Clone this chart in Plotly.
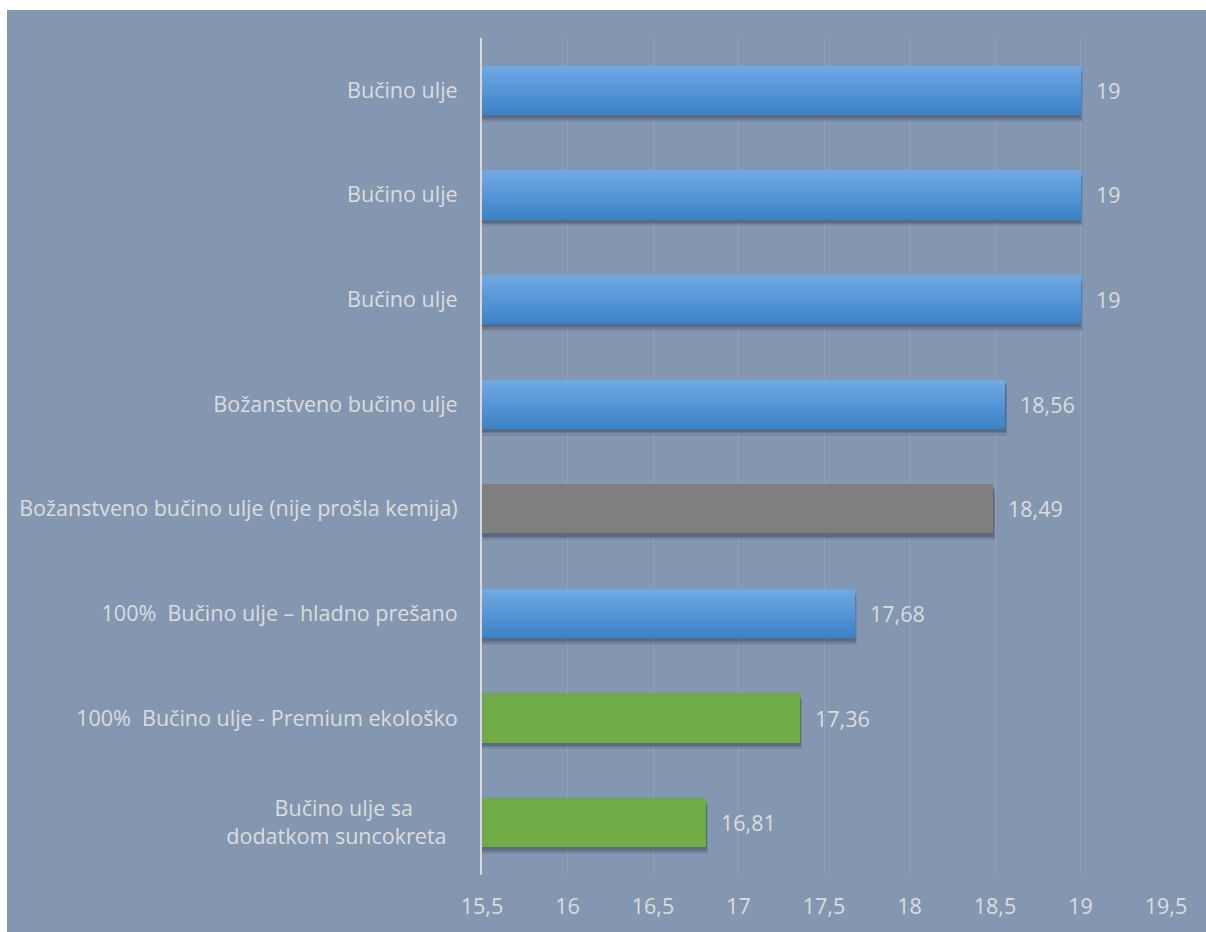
import plotly.graph_objects as go

# Products, top to bottom
labels = [
    "Bučino ulje",
    "Bučino ulje",
    "Bučino ulje",
    "Božanstveno bučino ulje",
    "Božanstveno bučino ulje (nije prošla kemija)",
    "100%\u00a0 Bučino ulje – hladno prešano",
    "100%\u00a0 Bučino ulje - Premium ekološko",
    "Bučino ulje sa" + "\u00a0" * 8 + "<br>dodatkom suncokreta\u00a0\u00a0",
]
values = [19, 19, 19, 18.56, 18.49, 17.68, 17.36, 16.81]
groups = ["blue", "blue", "blue", "blue", "gray", "blue", "green", "green"]

x_ticks = [15.5, 16, 16.5, 17, 17.5, 18, 18.5, 19, 19.5]
x_ticktext = ["15,5", "16", "16,5", "17", "17,5", "18", "18,5", "19", "19,5"]

BG = "#8497B0"
TEXT = "#DCDCDC"
FONT = "Open Sans"
FS = 21.5
flat = {"blue": "#5499DA", "gray": "#7F7F7F", "green": "#6FAC46"}
blue_top = (110, 169, 227)
blue_bot = (61, 131, 200)

W = 0.47  # bar thickness in category units
pos = list(range(len(values)))

fig = go.Figure()

# soft drop shadow under each bar
for dy, dx, alpha in [(0.065, 0.012, 0.12), (0.045, 0.008, 0.18), (0.03, 0.004, 0.22)]:
    fig.add_trace(go.Bar(
        y=pos, x=values, base=dx, orientation="h",
        offset=-W / 2 + dy, width=W,
        marker=dict(color=f"rgba(40,50,70,{alpha})", line=dict(width=0)),
        hoverinfo="skip", showlegend=False,
    ))

# flat fill for every bar
fig.add_trace(go.Bar(
    y=pos, x=values, orientation="h", offset=-W / 2, width=W,
    marker=dict(color=[flat[g] for g in groups], line=dict(width=0)),
    showlegend=False,
))

# vertical gradient on the blue bars
blue_pos = [p for p, g in zip(pos, groups) if g == "blue"]
blue_val = [v for v, g in zip(values, groups) if g == "blue"]
N = 16
for i in range(N):
    t = i / (N - 1)
    c = tuple(round(a + (b - a) * t) for a, b in zip(blue_top, blue_bot))
    fig.add_trace(go.Bar(
        y=blue_pos, x=blue_val, orientation="h",
        offset=-W / 2 + i * W / N, width=W - i * W / N,
        marker=dict(color=f"rgb{c}", line=dict(width=0)),
        hoverinfo="skip", showlegend=False,
    ))

# value labels
for p, v in zip(pos, values):
    fig.add_annotation(
        x=v, y=p, text=f"{v:g}".replace(".", ","), showarrow=False,
        xanchor="left", yanchor="middle", xshift=13,
        font=dict(family=FONT, size=FS, color=TEXT),
    )

L, R, T, B = 482, 40, 38, 55
PW, PH = 1206 - L - R, 932 - T - B
# chart panel behind the plot, leaving a thin white edge top and left
fig.add_shape(
    type="rect", xref="paper", yref="paper", layer="below",
    x0=(7 - L) / PW, x1=(1206 - L + 5) / PW,
    y0=-(B + 5) / PH, y1=1 + (T - 10) / PH,
    fillcolor=BG, line=dict(width=0),
)

fig.update_layout(
    width=1206, height=932,
    margin=dict(l=L, r=R, t=T, b=B),
    paper_bgcolor="white", plot_bgcolor="rgba(0,0,0,0)",
    barmode="overlay", bargap=0,
    font=dict(family=FONT, size=FS, color=TEXT),
    xaxis=dict(
        range=[15.5, 19.5], tickvals=x_ticks, ticktext=x_ticktext,
        showgrid=True, gridcolor="rgba(217,217,217,0.16)", gridwidth=1,
        zeroline=False, showline=False, ticks="", ticklabelstandoff=16,
        tickfont=dict(family=FONT, size=FS, color=TEXT),
    ),
    yaxis=dict(
        range=[len(values) - 0.5, -0.5], tickvals=pos, ticktext=labels,
        showgrid=False, zeroline=False, showline=True,
        linecolor="#D9D9D9", linewidth=2, ticks="", ticklabelstandoff=18,
        tickfont=dict(family=FONT, size=FS, color=TEXT),
    ),
)

fig.write_html("out.html")
